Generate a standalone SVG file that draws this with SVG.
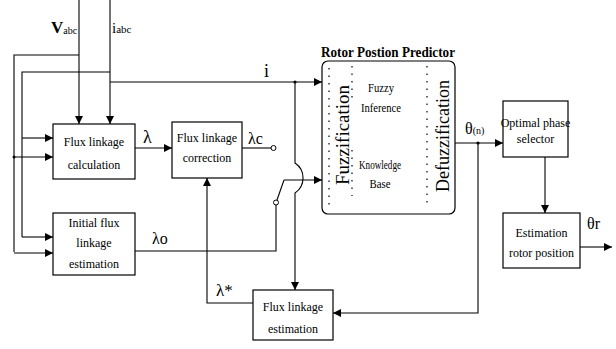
<svg xmlns="http://www.w3.org/2000/svg" width="616" height="349" viewBox="0 0 616 349">
  <style>
    .box { fill: #fff; stroke: #000; stroke-width: 1.2; }
    .ln { fill: none; stroke: #000; stroke-width: 1.1; }
    .arr { fill: none; stroke: #000; stroke-width: 1.1; marker-end: url(#ah); }
    .dot { fill: none; stroke: #000; stroke-width: 1.2; stroke-dasharray: 1.5 6; }
    .t { font-family: "Liberation Serif", "Times New Roman", serif; font-size: 12px; fill: #000; text-anchor: middle; }
    .lbl { font-family: "Liberation Serif", "Times New Roman", serif; fill: #000; }
    .vt { font-family: "Liberation Serif", "Times New Roman", serif; font-size: 19px; fill: #000; text-anchor: middle; }
  </style>
  <defs>
    <marker id="ah" viewBox="0 0 10 10" refX="10" refY="5" markerWidth="9" markerHeight="8" markerUnits="userSpaceOnUse" orient="auto">
      <path d="M0,0 L10,5 L0,10 Z" fill="#000"/>
    </marker>
  </defs>
  <rect width="616" height="349" fill="#fff"/>

  <!-- connectors -->
  <g id="connectors">
    <!-- V and i inputs -->
    <path class="arr" d="M79,0 V124"/>
    <path class="arr" d="M110,0 V124"/>
    <path class="ln" d="M79,55 H14 V252"/>
    <path class="ln" d="M110,72 H22 V237"/>
    <path class="arr" d="M22,138 H53"/>
    <path class="arr" d="M14,157 H53"/>
    <circle cx="14" cy="157" r="1.5" fill="#000"/>
    <path class="arr" d="M22,237 H53"/>
    <path class="arr" d="M14,253 H53"/>
    <!-- current to predictor -->
    <path class="arr" d="M110,82 H322"/>
    <circle cx="295" cy="82" r="1.6" fill="#000"/>
    <!-- branch down to flux linkage estimation, hopping over the switch line -->
    <path class="arr" d="M295,82 V163 A18,18 0 0 1 295,193 V290"/>
    <!-- calculation to correction -->
    <path class="arr" d="M135,148 H172"/>
    <!-- correction output to switch contact -->
    <path class="ln" d="M242,148 H271"/>
    <circle cx="273.5" cy="148" r="2.5" fill="#fff" stroke="#000" stroke-width="1"/>
    <!-- initial flux output to switch contact -->
    <path class="ln" d="M135,251 H276 V205"/>
    <circle cx="276" cy="202.5" r="2.5" fill="#fff" stroke="#000" stroke-width="1"/>
    <!-- switch blade and line into predictor -->
    <path class="ln" d="M277,200 L284,180"/>
    <path class="arr" d="M284,180 H322"/>
    <!-- estimated flux back to correction -->
    <path class="arr" d="M253,303 H207 V178"/>
    <!-- predictor output -->
    <path class="arr" d="M455,143 H503"/>
    <circle cx="478" cy="143" r="1.6" fill="#000"/>
    <path class="arr" d="M478,143 V313 H333"/>
    <!-- phase selector to position estimation -->
    <path class="arr" d="M545,157 V213"/>
    <path class="arr" d="M580,247 H612"/>
  </g>

  <g id="flux-calc">
    <rect class="box" x="53" y="124" width="82" height="55"/>
    <text class="t" x="94" y="146">Flux linkage</text>
    <text class="t" x="94" y="169">calculation</text>
  </g>

  <g id="flux-correction">
    <rect class="box" x="172" y="122" width="70" height="56"/>
    <text class="t" x="207" y="142">Flux linkage</text>
    <text class="t" x="207" y="162">correction</text>
  </g>

  <g id="initial-flux">
    <rect class="box" x="53" y="213" width="82" height="62"/>
    <text class="t" x="94" y="227">Initial flux</text>
    <text class="t" x="94" y="247">linkage</text>
    <text class="t" x="94" y="268">estimation</text>
  </g>

  <g id="flux-estimation">
    <rect class="box" x="253" y="290" width="80" height="50"/>
    <text class="t" x="293" y="311">Flux linkage</text>
    <text class="t" x="293" y="333">estimation</text>
  </g>

  <g id="rotor-predictor">
    <text class="lbl" x="388" y="57" font-size="15" font-weight="bold" text-anchor="middle" textLength="134" lengthAdjust="spacingAndGlyphs">Rotor Postion Predictor</text>
    <rect class="box" x="322" y="61" width="133" height="153" rx="6"/>
    <path class="dot" d="M329,68 V208"/>
    <path class="dot" d="M352,66 V100 M352,150 V196"/>
    <path class="dot" d="M427,66 V206"/>
    <text class="vt" transform="translate(349,135) rotate(-90)" textLength="100" lengthAdjust="spacingAndGlyphs">Fuzzification</text>
    <text class="vt" transform="translate(449,136) rotate(-90)" textLength="112" lengthAdjust="spacingAndGlyphs">Defuzzification</text>
    <text class="t" x="381" y="92" font-size="14" textLength="26" lengthAdjust="spacingAndGlyphs">Fuzzy</text>
    <text class="t" x="381" y="112" font-size="14" textLength="40" lengthAdjust="spacingAndGlyphs">Inference</text>
    <text class="t" x="380" y="169" font-size="14" textLength="42" lengthAdjust="spacingAndGlyphs">Knowledge</text>
    <text class="t" x="380" y="188" font-size="14" textLength="21" lengthAdjust="spacingAndGlyphs">Base</text>
  </g>

  <g id="phase-selector">
    <rect class="box" x="503" y="101" width="65" height="56"/>
    <text class="t" x="535.5" y="127">Optimal phase</text>
    <text class="t" x="535.5" y="143">selector</text>
  </g>

  <g id="rotor-position">
    <rect class="box" x="503" y="213" width="77" height="55"/>
    <text class="t" x="541.5" y="237">Estimation</text>
    <text class="t" x="541.5" y="257">rotor position</text>
  </g>

  <!-- signal labels -->
  <g id="labels">
    <text class="lbl" x="51" y="33" font-size="17" font-weight="bold">V<tspan font-size="10" font-weight="normal" dy="1">abc</tspan></text>
    <text class="lbl" x="112" y="33" font-size="15">i<tspan font-size="11">abc</tspan></text>
    <text class="lbl" x="264" y="77" font-size="18">i</text>
    <text class="lbl" x="143" y="143" font-size="18">λ</text>
    <text class="lbl" x="248" y="144" font-size="16">λc</text>
    <text class="lbl" x="152" y="244" font-size="16">λo</text>
    <text class="lbl" x="216" y="296" font-size="17">λ*</text>
    <text class="lbl" x="465" y="134" font-size="16">θ<tspan font-size="10">(n)</tspan></text>
    <text class="lbl" x="587" y="229" font-size="16">θr</text>
  </g>
</svg>
